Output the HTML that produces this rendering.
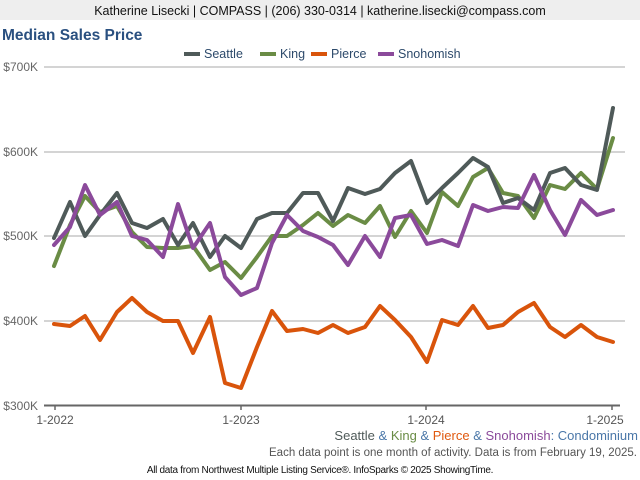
<!DOCTYPE html>
<html><head><meta charset="utf-8"><style>
html,body{margin:0;padding:0;background:#fff;}
svg{display:block;font-family:"Liberation Sans",Arial,sans-serif;}
</style></head><body>
<svg width="640" height="480" viewBox="0 0 640 480" xmlns="http://www.w3.org/2000/svg">
<rect x="0" y="0" width="640" height="20" fill="#eeeeee"/>
<text x="320" y="15" font-size="12.5" text-anchor="middle" fill="#111">Katherine Lisecki | COMPASS | (206) 330-0314 | katherine.lisecki@compass.com</text>
<text x="2" y="40" font-size="15.5" font-weight="bold" fill="#2a5080">Median Sales Price</text>
<g font-size="12.5" fill="#2d4a6b">
<rect x="184" y="52" width="16" height="4" fill="#4f5a59"/><text x="204" y="58">Seattle</text>
<rect x="260" y="52" width="16" height="4" fill="#6a8c45"/><text x="280" y="58">King</text>
<rect x="311" y="52" width="16" height="4" fill="#d9540b"/><text x="331" y="58">Pierce</text>
<rect x="378" y="52" width="16" height="4" fill="#8b4a9b"/><text x="398" y="58">Snohomish</text>
</g>
<g stroke="#aaaaaa" stroke-width="1">
<line x1="44" y1="67" x2="625" y2="67"/>
<line x1="44" y1="152" x2="625" y2="152"/>
<line x1="44" y1="236" x2="625" y2="236"/>
<line x1="44" y1="321" x2="625" y2="321"/>
</g>
<g font-size="12" fill="#666" text-anchor="end">
<text x="38" y="71">$700K</text>
<text x="38" y="156">$600K</text>
<text x="38" y="240">$500K</text>
<text x="38" y="325">$400K</text>
<text x="38" y="410">$300K</text>
</g>
<line x1="44" y1="405.5" x2="620" y2="405.5" stroke="#666" stroke-width="2"/>
<g stroke="#666" stroke-width="1.5">
<line x1="55" y1="405" x2="55" y2="410"/>
<line x1="241" y1="405" x2="241" y2="410"/>
<line x1="426" y1="405" x2="426" y2="410"/>
<line x1="612" y1="405" x2="612" y2="410"/>
</g>
<g font-size="12" fill="#555" text-anchor="middle">
<text x="55" y="424">1-2022</text>
<text x="241" y="424">1-2023</text>
<text x="426" y="424">1-2024</text>
<text x="605" y="424">1-2025</text>
</g>
<g fill="none" stroke-width="4" stroke-linejoin="round" stroke-linecap="round">
<polyline stroke="#d9540b" points="54,324 70,326 85,316 100,340 117,312 132,298 147,312 163,321 178,321 193,353 210,317 225,383 241,388 257,347 272,311 287,331 303,329 318,333 333,325 348,333 365,327 380,306 395,320 411,337 427,362 442,320 458,325 473,306 488,328 503,325 518,312 534,303 550,327 565,337 581,325 597,337 613,342"/>
<polyline stroke="#6a8c45" points="54,266 70,225 85,196 100,212 117,206 132,232 147,247 163,248 178,248 193,246 210,270 225,262 241,278 257,257 272,236 287,236 303,225 318,213 333,226 348,215 365,223 380,206 395,237 411,211 427,233 442,192 458,206 473,177 488,168 503,193 518,196 534,218 550,185 565,189 581,173 597,189 613,138"/>
<polyline stroke="#4f5a59" points="54,238 70,202 85,236 100,215 117,193 132,223 147,228 163,219 178,245 193,223 210,257 225,236 241,248 257,219 272,213 287,213 303,193 318,193 333,221 348,188 365,194 380,189 395,173 411,161 427,203 442,188 458,173 473,158 488,167 503,203 518,198 534,210 550,173 565,168 581,185 597,190 613,108"/>
<polyline stroke="#8b4a9b" points="54,245 70,227 85,185 100,215 117,202 132,236 147,240 163,257 178,204 193,248 210,223 225,277 241,295 257,288 272,243 287,215 303,231 318,237 333,245 348,265 365,236 380,257 395,218 411,215 427,244 442,240 458,246 473,205 488,211 503,207 518,208 534,175 550,210 565,235 581,200 597,215 613,210"/>
</g>
<text x="638" y="440" font-size="13" text-anchor="end"><tspan fill="#4f5a59">Seattle</tspan><tspan fill="#4a77a8"> &amp; </tspan><tspan fill="#6a8c45">King</tspan><tspan fill="#4a77a8"> &amp; </tspan><tspan fill="#e0590f">Pierce</tspan><tspan fill="#4a77a8"> &amp; </tspan><tspan fill="#8b4a9b">Snohomish</tspan><tspan fill="#4a77a8">: Condominium</tspan></text>
<text x="637" y="456" font-size="11.5" text-anchor="end" fill="#555">Each data point is one month of activity. Data is from February 19, 2025.</text>
<text x="320" y="473" font-size="10" text-anchor="middle" fill="#111" letter-spacing="-0.3">All data from Northwest Multiple Listing Service®. InfoSparks © 2025 ShowingTime.</text>
</svg>
</body></html>
